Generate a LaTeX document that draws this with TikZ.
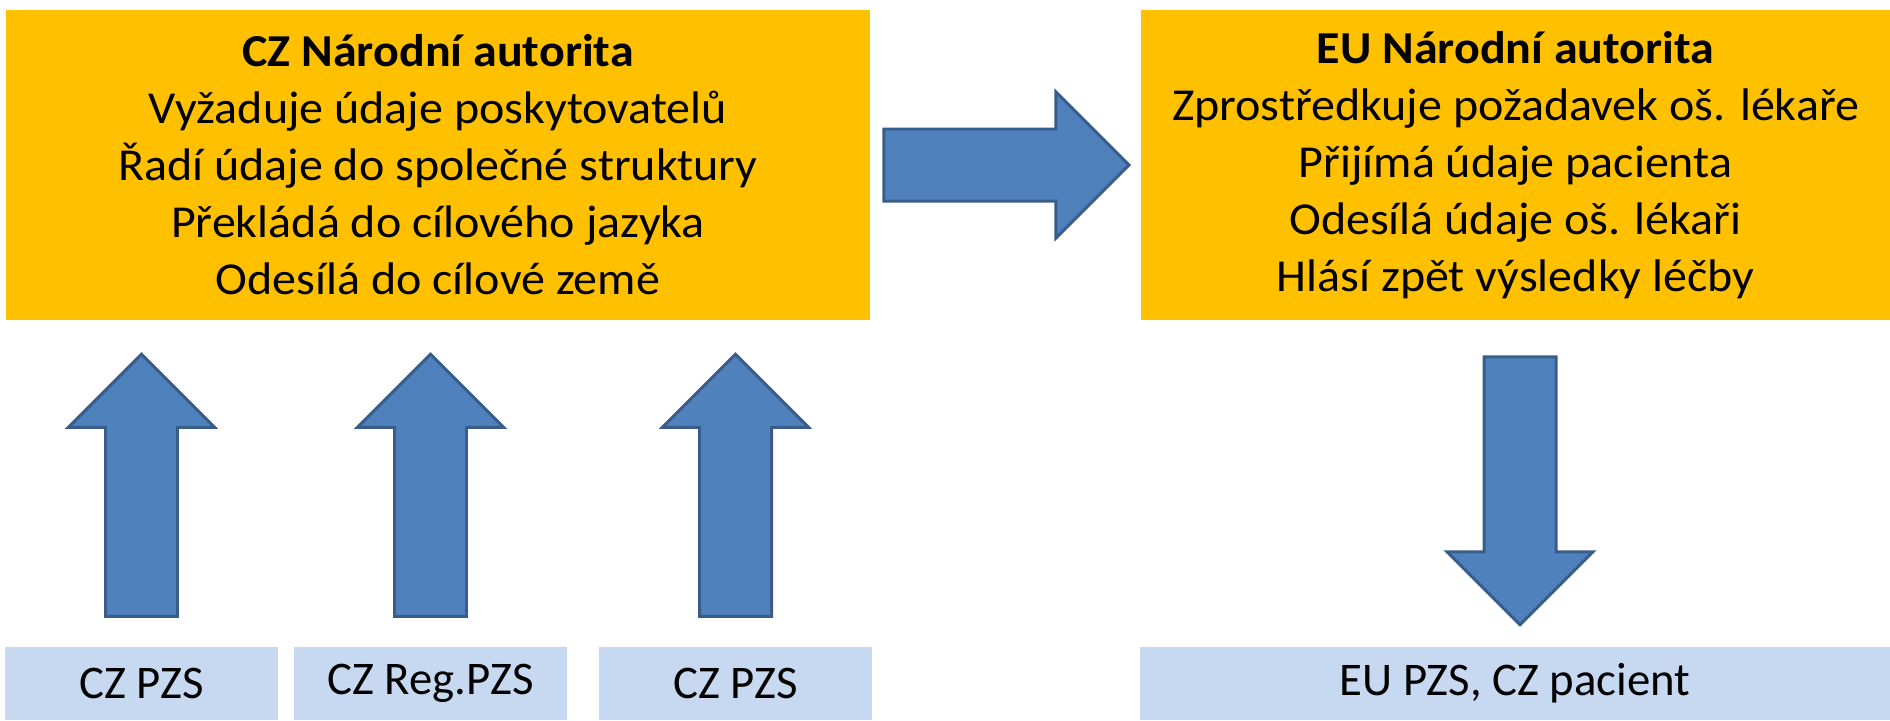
\documentclass[tikz,border=0pt]{standalone}
\usepackage{fontspec}
\setmainfont{Carlito}
\newfontfamily\widefont{Carlito}[FakeStretch=1.05]
\definecolor{gold}{HTML}{FFC000}
\definecolor{paleblue}{HTML}{C6D9F1}
\definecolor{arrowfill}{HTML}{4F81BD}
\definecolor{arrowline}{HTML}{385D8A}
\tikzset{
  orangebox/.style={fill=gold,minimum height=3.1cm,align=center,inner sep=0pt,
    font=\widefont\fontsize{13}{16.2}\selectfont},
  bluebox/.style={fill=paleblue,minimum width=2.73cm,minimum height=.73cm,inner sep=0pt,
    font=\fontsize{13.3}{16}\selectfont},
  bigarrow/.style={fill=arrowfill,draw=arrowline,line width=.85pt}
}
\begin{document}
\begin{tikzpicture}[x=.01cm,y=.01cm]
\useasboundingbox (0,0) rectangle (1890,720);
% upper boxes
\node[orangebox,minimum width=8.64cm] (czna) at (438,555)
  {\textbf{CZ Národní autorita}\\Vyžaduje údaje poskytovatelů\\Řadí údaje do společné struktury\\Překládá do cílového jazyka\\Odesílá do cílové země};
\node[orangebox,minimum width=7.49cm] (euna) at (1515.5,555)
  {\textbf{EU Národní autorita}\\Zprostředkuje požadavek oš. lékaře\\Přijímá údaje pacienta\\Odesílá údaje oš. lékaři\\Hlásí zpět výsledky léčby};
% lower boxes
\node[bluebox] (pzs1) at (141.5,36.5) {CZ PZS};
\node[bluebox] (regpzs) at (430.5,36.5) {CZ Reg.PZS};
\node[bluebox] (pzs2) at (735.5,36.5) {CZ PZS};
\node[bluebox,minimum width=7.5cm] (eupzs) at (1515,36.5) {EU PZS, CZ pacient};
\path
  (pzs1.north)+(0,30) coordinate (t1)
  (regpzs.north)+(0,30) coordinate (t2)
  (pzs2.north)+(0,30) coordinate (t3)
  (euna.south)+(4.5,-36) coordinate (t4)
  (czna.east)+(13,0) coordinate (t5);
\foreach \t/\r/\l in {t1/90/262,t2/90/262,t3/90/262,t4/-90/268,t5/0/245}
  \draw[bigarrow,shift={(\t)},rotate=\r] (0,-36)--(\l-73,-36)--(\l-73,-73)--(\l,0)--(\l-73,73)--(\l-73,36)--(0,36)--cycle;
\end{tikzpicture}
\end{document}
